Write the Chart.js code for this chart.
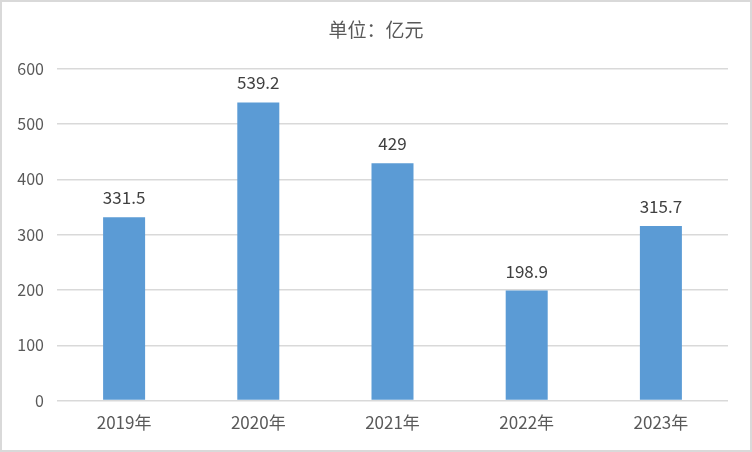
<!DOCTYPE html>
<html>
<head>
<meta charset="utf-8">
<script src="https://cdn.jsdelivr.net/npm/chart.js@4/dist/chart.umd.min.js"></script>
<style>
  html, body { margin: 0; padding: 0; background: #fff; }
  #wrap { width: 752px; height: 452px; box-sizing: border-box; border: 2px solid #d9d9d9; position: relative; }
  #c { display: block; }
</style>
</head>
<body>
<div id="wrap"><canvas id="c" width="748" height="448"></canvas></div>
<script>
  // ── Data ──
  var categories = ["2019年", "2020年", "2021年", "2022年", "2023年"];
  var values = [331.5, 539.2, 429, 198.9, 315.7];
  var valueLabels = ["331.5", "539.2", "429", "198.9", "315.7"];
  var yTicks = [0, 100, 200, 300, 400, 500, 600];

  var FONT = "'Microsoft YaHei', 'Noto Sans CJK SC', sans-serif";
  var TXT = "#595959";

  // value labels above bars
  var barLabels = {
    id: "barLabels",
    afterDatasetsDraw: function (chart) {
      var ctx = chart.ctx;
      var meta = chart.getDatasetMeta(0);
      ctx.save();
      ctx.font = "17px " + FONT;
      ctx.fillStyle = "#404040";
      ctx.textAlign = "center";
      ctx.textBaseline = "bottom";
      meta.data.forEach(function (bar, i) {
        ctx.fillText(valueLabels[i], bar.x, bar.y - 11);
      });
      ctx.restore();
    }
  };

  // centre the title on the whole canvas, not just the padded area
  var titleSpan = {
    id: "titleSpan",
    afterLayout: function (chart) {
      var t = chart.titleBlock;
      if (!t) return;
      t.left = 0;
      t.right = chart.width;
      t.width = chart.width;
    }
  };

  new Chart(document.getElementById("c"), {
    type: "bar",
    data: {
      labels: categories,
      datasets: [{
        data: values,
        backgroundColor: "#5B9BD5",
        categoryPercentage: 1,
        barPercentage: 0.313
      }]
    },
    options: {
      responsive: false,
      animation: false,
      layout: { padding: { left: 0, right: 22, top: 0, bottom: 5 } },
      plugins: {
        legend: { display: false },
        tooltip: { enabled: false },
        title: {
          display: true,
          text: "单位：亿元",
          color: TXT,
          font: { size: 19, family: FONT, weight: "normal" },
          padding: { top: 16, bottom: 28 }
        }
      },
      scales: {
        x: {
          grid: { display: false, drawTicks: false },
          border: { display: false },
          ticks: { color: TXT, font: { size: 17, family: FONT }, padding: 12 }
        },
        y: {
          min: 0, max: 600,
          afterBuildTicks: function (s) { s.ticks = yTicks.map(function (v) { return { value: v }; }); },
          afterFit: function (s) { s.width = 55; },
          grid: { color: "#d9d9d9", lineWidth: 1.5, drawTicks: false },
          border: { display: false },
          ticks: { color: TXT, font: { size: 16, family: FONT }, padding: 13 }
        }
      }
    },
    plugins: [barLabels, titleSpan]
  });
</script>
</body>
</html>
